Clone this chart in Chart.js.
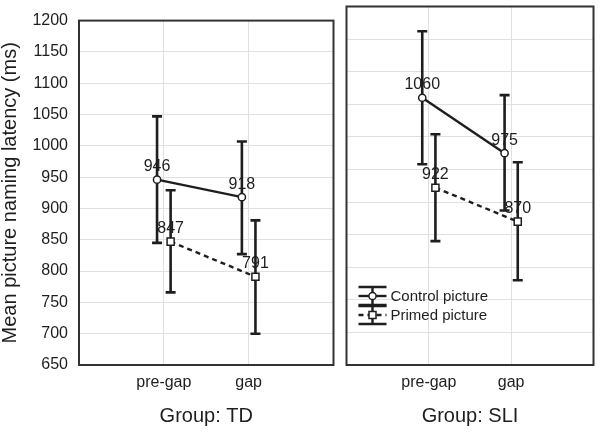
<!DOCTYPE html>
<html>
<head>
<meta charset="utf-8">
<script src="https://cdn.jsdelivr.net/npm/chart.js@4.4.1/dist/chart.umd.min.js"></script>
<style>
body { margin: 0; background: #fff; }
#wrap { position: relative; width: 600px; height: 432px; }
#left { position: absolute; left: 0; top: 0; width: 340px; height: 432px; }
#right { position: absolute; left: 340px; top: 0; width: 260px; height: 432px; }
</style>
</head>
<body>
<div id="wrap">
  <canvas id="left" width="340" height="432"></canvas>
  <canvas id="right" width="260" height="432"></canvas>
</div>
<script>
// values
var categories = ['pre-gap', 'gap'];
var seriesNames = ['Control picture', 'Primed picture'];
var yTicks = [650, 1200, 50]; // min, max, step

var tdControl = [946, 918];
var tdControlLow = [845, 827];
var tdControlHigh = [1047, 1007];
var tdPrimed = [847, 791];
var tdPrimedLow = [766, 700];
var tdPrimedHigh = [929, 881];

var sliControl = [1060, 975];
var sliControlLow = [958, 887];
var sliControlHigh = [1162, 1064];
var sliPrimed = [922, 870];
var sliPrimedLow = [840, 780];
var sliPrimedHigh = [1004, 961];

var FONT = "'Liberation Sans', Arial, sans-serif";
var INK = '#1e1e1e';
var shift = 0.08; // horizontal offset of the two series around a category

function pts(vals, off) {
    return vals.map(function(v, i) { return { x: i + 1 + off, y: v }; });
}

function makeDatasets(ctrl, ctrlLo, ctrlHi, prim, primLo, primHi) {
    return [
        {
            label: seriesNames[0],
            data: pts(ctrl, -shift),
            low: ctrlLo, high: ctrlHi,
            borderColor: INK,
            borderWidth: 2.4,
            pointStyle: 'circle',
            pointRadius: 3.6,
            pointBorderWidth: 1.5,
            pointBackgroundColor: '#fff',
            pointBorderColor: INK
        },
        {
            label: seriesNames[1],
            data: pts(prim, shift),
            low: primLo, high: primHi,
            borderColor: INK,
            borderWidth: 2.4,
            borderDash: [5, 4],
            pointStyle: 'rect',
            pointRadius: 5,
            pointBorderWidth: 1.5,
            pointBackgroundColor: '#fff',
            pointBorderColor: INK
        }
    ];
}

// frame + error bars + value labels
var panelPlugin = {
    id: 'panel',
    beforeDatasetsDraw: function(chart) {
        var ctx = chart.ctx, a = chart.chartArea;
        var xs = chart.scales.x, ys = chart.scales.y;
        ctx.save();
        ctx.strokeStyle = '#333';
        ctx.lineWidth = 2;
        ctx.strokeRect(a.left, a.top, a.right - a.left, a.bottom - a.top);
        ctx.strokeStyle = INK;
        ctx.lineWidth = 2.6;
        chart.data.datasets.forEach(function(ds) {
            ds.data.forEach(function(p, i) {
                var px = xs.getPixelForValue(p.x);
                var y1 = ys.getPixelForValue(ds.low[i]);
                var y2 = ys.getPixelForValue(ds.high[i]);
                ctx.beginPath();
                ctx.moveTo(px, y1); ctx.lineTo(px, y2);
                ctx.moveTo(px - 5, y1); ctx.lineTo(px + 5, y1);
                ctx.moveTo(px - 5, y2); ctx.lineTo(px + 5, y2);
                ctx.stroke();
            });
        });
        ctx.restore();
    },
    afterDatasetsDraw: function(chart) {
        var ctx = chart.ctx;
        var xs = chart.scales.x, ys = chart.scales.y;
        ctx.save();
        ctx.fillStyle = INK;
        ctx.font = '16px ' + FONT;
        ctx.textAlign = 'center';
        ctx.textBaseline = 'middle';
        chart.data.datasets.forEach(function(ds) {
            ds.data.forEach(function(p) {
                ctx.fillText(String(p.y), xs.getPixelForValue(p.x), ys.getPixelForValue(p.y) - 13);
            });
        });
        ctx.restore();
    }
};

// legend drawn inside the right panel
var legendPlugin = {
    id: 'innerLegend',
    afterDraw: function(chart, args, opts) {
        if (!opts.show) return;
        var ctx = chart.ctx, a = chart.chartArea;
        var x0 = a.left + 12, w = 28;
        ctx.save();
        chart.data.datasets.forEach(function(ds, i) {
            var cy = 296 + i * 19;
            var cx = x0 + w / 2;
            ctx.strokeStyle = INK;
            ctx.lineWidth = 2.4;
            ctx.setLineDash([]);
            ctx.beginPath();
            ctx.moveTo(x0, cy - 9); ctx.lineTo(x0 + w, cy - 9);
            ctx.moveTo(x0, cy + 9); ctx.lineTo(x0 + w, cy + 9);
            ctx.moveTo(cx, cy - 9); ctx.lineTo(cx, cy + 9);
            ctx.stroke();
            ctx.setLineDash(ds.borderDash || []);
            ctx.beginPath();
            ctx.moveTo(x0, cy); ctx.lineTo(x0 + w, cy);
            ctx.stroke();
            ctx.setLineDash([]);
            ctx.fillStyle = '#fff';
            ctx.lineWidth = 1.5;
            ctx.beginPath();
            if (ds.pointStyle === 'circle') ctx.arc(cx, cy, 3.6, 0, Math.PI * 2);
            else ctx.rect(cx - 3.5, cy - 3.5, 7, 7);
            ctx.fill(); ctx.stroke();
            ctx.fillStyle = INK;
            ctx.font = '15px ' + FONT;
            ctx.textAlign = 'left';
            ctx.textBaseline = 'middle';
            ctx.fillText(ds.label, x0 + w + 4, cy + 1);
        });
        ctx.restore();
    }
};

function makeOptions(groupTitle, isLeft) {
    return {
        responsive: false,
        animation: false,
        layout: { padding: { top: 6, right: isLeft ? 6 : 3, left: isLeft ? 0 : 4, bottom: 0 } },
        plugins: {
            legend: { display: false },
            tooltip: { enabled: false },
            innerLegend: { show: !isLeft }
        },
        scales: {
            x: {
                type: 'linear',
                min: 0,
                max: 3,
                afterBuildTicks: function(scale) {
                    scale.ticks = categories.map(function(c, i) { return { value: i + 1 }; });
                },
                afterFit: function(scale) { scale.height = 67; },
                ticks: {
                    callback: function(v) { return categories[v - 1]; },
                    font: { size: 16, family: FONT },
                    color: INK,
                    padding: 8,
                    maxRotation: 0
                },
                grid: { color: '#e0e0e0', lineWidth: 1, drawTicks: false },
                border: { display: false },
                title: {
                    display: true,
                    text: groupTitle,
                    font: { size: 20, family: FONT },
                    color: INK,
                    padding: { top: 0, bottom: 4 }
                }
            },
            y: {
                min: yTicks[0],
                max: yTicks[1],
                afterFit: function(scale) { scale.width = isLeft ? 79 : 0; },
                ticks: {
                    display: isLeft,
                    stepSize: yTicks[2],
                    callback: function(v) { return String(v); },
                    font: { size: 16, family: FONT },
                    color: INK,
                    padding: 11
                },
                grid: { color: '#e0e0e0', lineWidth: 1, drawTicks: false },
                border: { display: false },
                title: {
                    display: isLeft,
                    text: 'Mean picture naming latency (ms)',
                    font: { size: 20, family: FONT, lineHeight: 1 },
                    color: INK,
                    padding: { top: 0, bottom: 0 }
                }
            }
        }
    };
}

new Chart(document.getElementById('left'), {
    type: 'line',
    data: { datasets: makeDatasets(tdControl, tdControlLow, tdControlHigh, tdPrimed, tdPrimedLow, tdPrimedHigh) },
    options: makeOptions('Group: TD', true),
    plugins: [panelPlugin, legendPlugin]
});

new Chart(document.getElementById('right'), {
    type: 'line',
    data: { datasets: makeDatasets(sliControl, sliControlLow, sliControlHigh, sliPrimed, sliPrimedLow, sliPrimedHigh) },
    options: makeOptions('Group: SLI', false),
    plugins: [panelPlugin, legendPlugin]
});
</script>
</body>
</html>
